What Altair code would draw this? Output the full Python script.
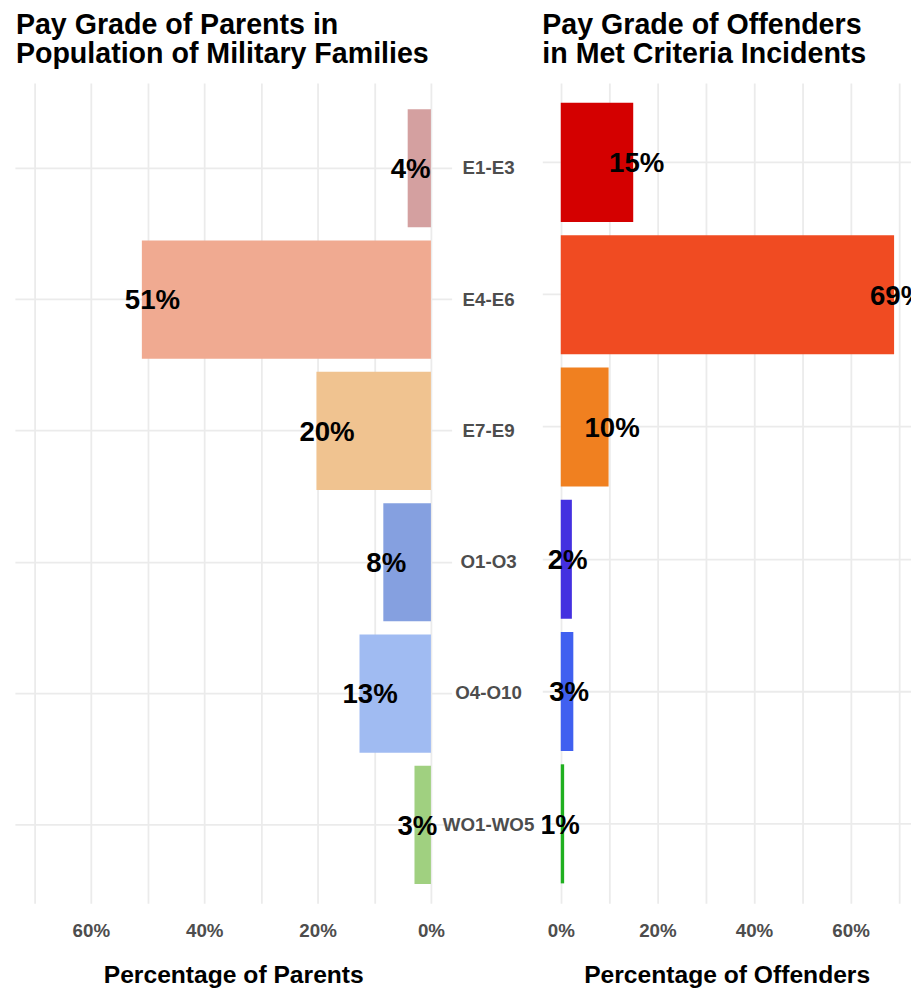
import altair as alt
import pandas as pd

# ---- data ----
grades = ["E1-E3", "E4-E6", "E7-E9", "O1-O3", "O4-O10", "WO1-WO5"]
parents_pct = [4.1, 51.0, 20.2, 8.4, 12.6, 2.9]
offenders_pct = [15.0, 69.0, 9.9, 2.3, 2.6, 0.7]
parent_colors = ["#d4a0a0", "#f0aa91", "#f0c390", "#85a0e0", "#a0bbf2", "#a0d080"]
offender_colors = ["#d40000", "#f04b22", "#f08020", "#4430e0", "#4060f0", "#20b020"]
x_ticks = [0, 10, 20, 30, 40, 50, 60, 70]

FONT = "Liberation Sans"
GRID = "#ebebeb"

left_df = pd.DataFrame({"grade": grades, "pct": parents_pct})
right_df = pd.DataFrame({"grade": grades, "pct": offenders_pct})


def x_axis(title):
    return alt.Axis(
        values=x_ticks,
        labelExpr="datum.value % 20 === 0 ? datum.value + '%' : ''",
        grid=True, gridColor=GRID, gridWidth=1.8,
        domain=False, ticks=False, tickSize=0,
        labelPadding=19, labelFont=FONT, labelFontSize=19,
        labelFontWeight="bold", labelColor="#4d4d4d",
        title=title, titleFont=FONT, titleFontSize=25, titleFontWeight="bold",
        titleColor="black", titlePadding=22,
    )


def panel(df, colors, domain, reverse, width, height, ys, title_lines, title_dx,
          axis_title, label_shift, y_axis):
    xs = alt.Scale(domain=domain, reverse=reverse, nice=False, zero=False)
    base = alt.Chart(df)
    bars = base.mark_bar().encode(
        y=alt.Y("grade:N", sort=grades, scale=ys, axis=y_axis),
        x=alt.X("pct:Q", scale=xs, axis=x_axis(axis_title)),
        x2=alt.datum(0),
        color=alt.Color("grade:N", scale=alt.Scale(domain=grades, range=colors), legend=None),
    )
    text = base.transform_calculate(
        lx=f"datum.pct + ({label_shift})",
        lab="round(datum.pct) + '%'",
    ).mark_text(
        align="left", baseline="middle", dy=2, fontSize=28, fontWeight="bold",
        font=FONT, color="black", clip=True,
    ).encode(
        y=alt.Y("grade:N", sort=grades, scale=ys),
        x=alt.X("lx:Q", scale=xs),
        text="lab:N",
    )
    return alt.layer(bars, text).properties(
        width=width, height=height,
        title=alt.Title(title_lines, anchor="start", frame="group", fontSize=29,
                        fontWeight="bold", font=FONT, color="black", lineHeight=30,
                        offset=14, dx=title_dx),
    )


left_y_axis = alt.Axis(
    orient="right", title=None, grid=True, gridColor=GRID, gridWidth=1.8,
    domain=False, ticks=False, tickSize=0, bandPosition=0.5,
    labelAlign="center", labelBaseline="middle", labelPadding=37,
    labelFont=FONT, labelFontSize=19, labelFontWeight="bold", labelColor="#4d4d4d",
)
right_y_axis = alt.Axis(
    orient="left", title=None, grid=True, gridColor=GRID, gridWidth=1.8,
    domain=False, ticks=False, tickSize=0, labels=False, bandPosition=0.5,
)

left = panel(left_df, parent_colors, [-3.65, 73.4], True, 443, 832,
             alt.Scale(paddingInner=0.1, paddingOuter=0.173, align=0.576),
             ["Pay Grade of Parents in", "Population of Military Families"], 1,
             "Percentage of Parents", 3, left_y_axis)
right = panel(right_df, offender_colors, [-3.82, 72.5], False, 374, 832,
              alt.Scale(paddingInner=0.1, paddingOuter=0.15),
              ["Pay Grade of Offenders", "in Met Criteria Incidents"], 0,
              "Percentage of Offenders", -5.0, right_y_axis)

chart = alt.hconcat(left, right, spacing=8, bounds="full").resolve_scale(
    color="independent"
).properties(
    padding={"left": 7, "top": -4, "right": 0, "bottom": 0}
).configure_view(stroke=None)

chart.save("out.html", embed_options={"renderer": "svg", "actions": False})
